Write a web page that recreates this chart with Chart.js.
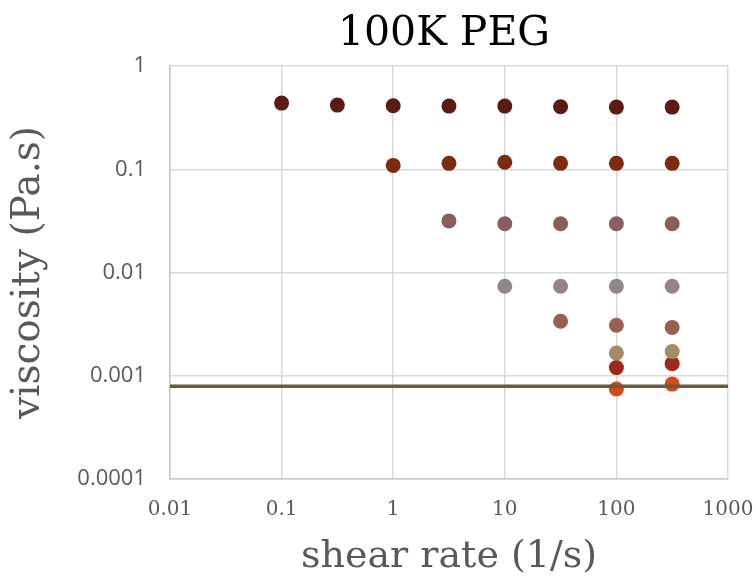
<!DOCTYPE html>
<html>
<head>
<meta charset="utf-8">
<script src="https://cdn.jsdelivr.net/npm/chart.js@4"></script>
<style>
  html, body { margin: 0; padding: 0; background: #fff; }
  #wrap { width: 755px; height: 580px; }
</style>
</head>
<body>
<div id="wrap"><canvas id="chart"></canvas></div>
<script>
var chartTitle = '100K PEG';

// shear rates (1/s) the samples were measured at
var shearRates = [0.1, 0.316, 1, 3.16, 10, 31.6, 100, 316];

// viscosity (Pa.s), null where a sample has no point
var sample1 = [0.437, 0.418, 0.412, 0.409, 0.409, 0.403, 0.400, 0.400];
var sample2 = [null, null, 0.109, 0.114, 0.117, 0.114, 0.114, 0.114];
var sample3 = [null, null, null, 0.0316, 0.0297, 0.0297, 0.0297, 0.0297];
var sample4 = [null, null, null, null, 0.00736, 0.00736, 0.00736, 0.00736];
var sample5 = [null, null, null, null, null, 0.00337, 0.00308, 0.00294];
var sample6 = [null, null, null, null, null, null, 0.00166, 0.00172];
var sample7 = [null, null, null, null, null, null, 0.00120, 0.00131];
var sample8 = [null, null, null, null, null, null, 0.000743, 0.00083];

var waterViscosity = 0.00079;

var xTicks = [0.01, 0.1, 1, 10, 100, 1000];
var xLabels = ['0.01', '0.1', '1', '10', '100', '1000'];
var yTicks = [0.0001, 0.001, 0.01, 0.1, 1];
var yLabels = ['0.0001', '0.001', '0.01', '0.1', '1'];

var samples = [sample1, sample2, sample3, sample4, sample5, sample6, sample7, sample8];
var colors = ['#5d1a13', '#7c2b0e', '#8a5e5e', '#938587', '#98604e', '#a48b69', '#9c2b1e', '#d4491a'];

function toPoints(values) {
  var pts = [];
  for (var i = 0; i < values.length; i++) {
    if (values[i] !== null) pts.push({ x: shearRates[i], y: values[i] });
  }
  return pts;
}

var datasets = [];
for (var i = 0; i < samples.length; i++) {
  datasets.push({
    type: 'scatter',
    data: toPoints(samples[i]),
    backgroundColor: colors[i],
    borderColor: colors[i],
    borderWidth: 0,
    pointRadius: 7.5,
    order: 1
  });
}
// reference line across the whole x range
datasets.push({
  type: 'line',
  data: [{ x: xTicks[0], y: waterViscosity }, { x: xTicks[xTicks.length - 1], y: waterViscosity }],
  borderColor: '#675a3e',
  borderWidth: 3.5,
  pointRadius: 0,
  order: 0
});

function decadeTicks(list) {
  return function(scale) {
    scale.ticks = list.map(function(v) { return { value: v }; });
  };
}

// title centred over the plot area rather than the whole canvas
var plotTitle = {
  id: 'plotTitle',
  afterDraw: function(chart) {
    var ctx = chart.ctx;
    var area = chart.chartArea;
    ctx.save();
    ctx.font = '41px "DejaVu Serif"';
    ctx.fillStyle = '#000';
    ctx.textAlign = 'center';
    ctx.textBaseline = 'alphabetic';
    ctx.fillText(chartTitle, (area.left + area.right) / 2 - 5, 45);
    ctx.restore();
  }
};

new Chart(document.getElementById('chart'), {
  type: 'scatter',
  data: { datasets: datasets },
  plugins: [plotTitle],
  options: {
    responsive: true,
    maintainAspectRatio: false,
    animation: false,
    layout: { padding: { top: 66, left: 0, right: 0, bottom: 0 } },
    plugins: {
      legend: { display: false },
      tooltip: { enabled: false },
      title: { display: false }
    },
    scales: {
      x: {
        type: 'logarithmic',
        min: 0.01,
        max: 1000,
        afterBuildTicks: decadeTicks(xTicks),
        afterFit: function(scale) {
          scale.height = 101;
          scale.paddingRight = 27;
        },
        grid: { color: '#d9d9d9', lineWidth: 1.5, drawTicks: false },
        border: { color: '#c8c8c8', width: 1.5 },
        ticks: {
          color: '#595959',
          padding: 19,
          maxRotation: 0,
          autoSkip: false,
          font: { family: 'DejaVu Serif', size: 20 },
          callback: function(v, idx) { return xLabels[idx]; }
        },
        title: {
          display: true,
          text: 'shear rate (1/s)',
          color: '#595959',
          font: { family: 'DejaVu Serif', size: 38 },
          padding: { top: 0, bottom: 0 }
        }
      },
      y: {
        type: 'logarithmic',
        min: 0.0001,
        max: 1,
        afterBuildTicks: decadeTicks(yTicks),
        afterFit: function(scale) { scale.width = 170; },
        grid: { color: '#d9d9d9', lineWidth: 1.5, drawTicks: false },
        border: { color: '#c8c8c8', width: 1.5 },
        ticks: {
          color: '#595959',
          padding: 24,
          autoSkip: false,
          font: { family: 'Open Sans', size: 22 },
          callback: function(v, idx) { return yLabels[idx]; }
        },
        title: {
          display: true,
          text: 'viscosity (Pa.s)',
          color: '#595959',
          font: { family: 'DejaVu Serif', size: 39 },
          padding: { top: 5, bottom: 0 }
        }
      }
    }
  }
});
</script>
</body>
</html>
